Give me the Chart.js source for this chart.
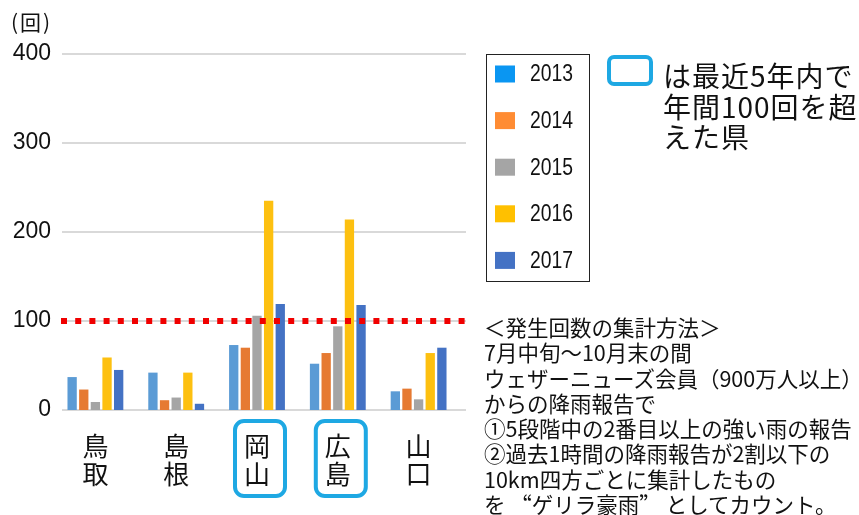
<!DOCTYPE html>
<html><head><meta charset="utf-8">
<script src="https://cdn.jsdelivr.net/npm/chart.js@4"></script>
<style>
html,body{margin:0;padding:0;background:#fff;}
#wrap{position:relative;width:859px;height:515px;overflow:hidden;background:#fff;}
#c{position:absolute;left:0;top:0;}
.t{position:absolute;font-family:'Noto Sans CJK JP','Noto Sans',sans-serif;color:#111;white-space:nowrap;}
.fw{font-feature-settings:"fwid";}
#icon{position:absolute;left:607px;top:55px;width:46px;height:31px;box-sizing:border-box;border:4px solid #1EA8E3;border-radius:7px;}
</style></head><body>
<div id="wrap">
<canvas id="c" width="859" height="515"></canvas>
<div class="t" style="left:11px;top:6px;font-size:21px;line-height:30px;letter-spacing:2px;">(回)</div>
<div id="icon"></div>
<div class="t" style="left:663px;top:60px;font-size:28px;line-height:30.5px;letter-spacing:1px;">は最近5年内で<br>年間100回を超<br>えた県</div>
<div class="t" style="left:484px;top:314px;font-size:21.5px;line-height:25.3px;">＜発生回数の集計方法＞<br>7月中旬～10月末の間<br>ウェザーニューズ会員（900万人以上）<br>からの降雨報告で<br>①5段階中の2番目以上の強い雨の報告<br>②過去1時間の降雨報告が2割以下の<br>10km四方ごとに集計したもの<br>を <span class="fw">“</span>ゲリラ豪雨<span class="fw">”</span> としてカウント。</div>
</div>
<script>
const categories = [['鳥','取'],['島','根'],['岡','山'],['広','島'],['山','口']];
const years = ['2013','2014','2015','2016','2017'];
const v2013 = [37, 42, 73, 52, 21];
const v2014 = [23, 11, 70, 64, 24];
const v2015 = [9, 14, 106, 94, 12];
const v2016 = [59, 42, 235, 214, 64];
const v2017 = [45, 7, 119, 118, 70];
const yTicks = [0, 100, 200, 300, 400];
const threshold = 100;
const colors = ['#5B9BD5', '#E67A32', '#A5A5A5', '#FDC010', '#4472C4'];
const legendColors = ['#0A96F2', '#FF8C33', '#A5A5A5', '#FFC000', '#4472C4'];

const series = [v2013, v2014, v2015, v2016, v2017];
const datasets = years.map((y, i) => ({
  label: y, data: series[i], backgroundColor: colors[i], borderWidth: 0,
  categoryPercentage: 0.72, barPercentage: 0.8
}));

const decor = {
  id: 'decor',
  beforeDatasetsDraw(chart) {
    const {ctx, chartArea: a, scales: {y}} = chart;
    ctx.save();
    ctx.strokeStyle = '#D9D9D9'; ctx.lineWidth = 2;
    yTicks.forEach(v => {
      const py = Math.round(y.getPixelForValue(v));
      ctx.beginPath(); ctx.moveTo(a.left + 7, py); ctx.lineTo(a.right + 7, py); ctx.stroke();
    });
    ctx.restore();
  },
  afterDatasetsDraw(chart) {
    const {ctx, chartArea: a, scales: {y}} = chart;
    const py = y.getPixelForValue(threshold);
    ctx.save();
    ctx.strokeStyle = '#F00000'; ctx.lineWidth = 6; ctx.lineCap = 'butt';
    ctx.setLineDash([6, 8.2]);
    ctx.beginPath(); ctx.moveTo(a.left + 6, py); ctx.lineTo(a.right + 8, py); ctx.stroke();
    ctx.restore();
  },
  afterDraw(chart) {
    const {ctx, scales: {x}} = chart;
    ctx.save();
    ctx.strokeStyle = '#1EA8E3'; ctx.lineWidth = 4;
    categories.forEach((c, i) => {
      const over = series.some(s => s[i] > threshold);
      if (!over) return;
      const cx = x.getPixelForValue(i) + 3;
      ctx.beginPath();
      ctx.roundRect(cx - 25, 421, 50, 75, 9);
      ctx.stroke();
    });
    ctx.strokeStyle = '#222'; ctx.lineWidth = 1;
    ctx.strokeRect(486.5, 54.5, 103, 227);
    ctx.font = "23px 'Liberation Sans', Arial, sans-serif";
    ctx.textBaseline = 'middle'; ctx.textAlign = 'left';
    chart.data.datasets.forEach((d, i) => {
      const cy = 74 + i * 46.6;
      ctx.fillStyle = legendColors[i];
      ctx.fillRect(495, cy - 8.5, 20, 17);
      ctx.fillStyle = '#111';
      const w = ctx.measureText(d.label).width;
      ctx.save();
      ctx.translate(530, cy + 1);
      ctx.scale(43 / w, 1);
      ctx.fillText(d.label, 0, 0);
      ctx.restore();
    });
    ctx.restore();
  }
};

new Chart(document.getElementById('c'), {
  type: 'bar',
  data: { labels: categories, datasets },
  options: {
    responsive: false, animation: false, devicePixelRatio: 1,
    layout: { padding: { top: 54, right: 400, left: 0, bottom: 0 } },
    plugins: { legend: { display: false }, tooltip: { enabled: false } },
    scales: {
      x: {
        grid: { display: false, drawTicks: false }, border: { display: false },
        ticks: { color: '#111', padding: 22, maxRotation: 0, autoSkip: false,
          font: { family: "'Noto Sans CJK JP'", size: 26, lineHeight: 1.08 } },
        afterFit: s => { s.height = 105; }
      },
      y: {
        min: 0, max: 400,
        grid: { display: false, drawTicks: false }, border: { display: false },
        ticks: { stepSize: 100, color: '#111', padding: 4,
          font: { family: "'Liberation Sans', Arial, sans-serif", size: 23 } },
        afterFit: s => { s.width = 55; }
      }
    }
  },
  plugins: [decor]
});
</script>
</body></html>
